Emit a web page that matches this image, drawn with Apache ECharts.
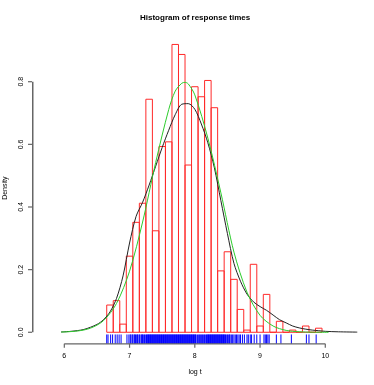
<!DOCTYPE html>
<html>
<head>
<meta charset="utf-8">
<script src="https://cdn.jsdelivr.net/npm/echarts@6/dist/echarts.min.js"></script>
<style>
  html, body { margin: 0; padding: 0; background: #fff; }
  #chart { width: 374px; height: 385px; }
</style>
</head>
<body>
<div id="chart"></div>
<script>
// histogram breaks (log t) and bar densities
const breaks = [6.65, 6.75, 6.85, 6.95, 7.05, 7.15, 7.25, 7.35, 7.45, 7.55, 7.65, 7.75,
  7.85, 7.95, 8.05, 8.15, 8.25, 8.35, 8.45, 8.55, 8.65, 8.75, 8.85, 8.95, 9.05, 9.15,
  9.25, 9.35, 9.45, 9.55, 9.65, 9.75, 9.85, 9.95];
const density = [0.087, 0.101, 0.026, 0.243, 0.351, 0.412, 0.744, 0.324, 0.593, 0.608,
  0.919, 0.887, 0.534, 0.784, 0.752, 0.804, 0.717, 0.196, 0.257, 0.169, 0.073, 0.007,
  0.217, 0.020, 0.121, 0, 0.035, 0, 0.007, 0, 0.020, 0, 0.013];

// kernel density estimate (black)
const kdeX = [5.95, 6.1, 6.3, 6.5, 6.6, 6.7, 6.8, 6.9, 7.0, 7.1, 7.2, 7.3, 7.4, 7.5, 7.6,
  7.7, 7.8, 7.9, 8.0, 8.1, 8.2, 8.3, 8.4, 8.5, 8.6, 8.7, 8.8, 8.9, 9.0, 9.1, 9.2, 9.3,
  9.4, 9.5, 9.6, 9.7, 9.8, 9.9, 10.0, 10.2, 10.49];
const kdeY = [0.001, 0.003, 0.009, 0.025, 0.040, 0.065, 0.108, 0.180, 0.285, 0.370, 0.415,
  0.470, 0.530, 0.590, 0.645, 0.695, 0.728, 0.730, 0.712, 0.665, 0.605, 0.525, 0.420,
  0.315, 0.220, 0.163, 0.122, 0.097, 0.082, 0.070, 0.055, 0.040, 0.030, 0.020, 0.014,
  0.010, 0.007, 0.005, 0.003, 0.0015, 0.0005];

// fitted normal density (green)
const normX = [5.95, 6.2, 6.4, 6.6, 6.8, 7.0, 7.2, 7.4, 7.6, 7.7, 7.8, 7.85, 7.9, 8.0, 8.2,
  8.4, 8.6, 8.8, 9.0, 9.2, 9.4, 9.6, 9.8, 10.05];
const normY = [0.0006, 0.004, 0.013, 0.037, 0.092, 0.195, 0.352, 0.542, 0.711, 0.770, 0.795,
  0.798, 0.793, 0.758, 0.620, 0.445, 0.256, 0.128, 0.054, 0.020, 0.006, 0.0016, 0.0003, 0];

// observed values shown as rug
const rug = [6.65, 6.67, 6.71, 6.74, 6.78, 6.81, 6.84, 6.87, 6.96, 6.99, 7.01, 7.02, 7.04,
  7.05, 7.07, 7.08, 7.09, 7.11, 7.12, 7.13, 7.15, 7.16, 7.18, 7.19, 7.20, 7.21, 7.23, 7.24,
  7.26, 7.27, 7.28, 7.29, 7.30, 7.31, 7.32, 7.33, 7.34, 7.35, 7.36, 7.37, 7.38, 7.39, 7.40,
  7.41, 7.42, 7.43, 7.44, 7.45, 7.46, 7.47, 7.48, 7.49, 7.50, 7.51, 7.52, 7.53, 7.54, 7.55,
  7.56, 7.57, 7.58, 7.59, 7.60, 7.61, 7.62, 7.63, 7.64, 7.65, 7.66, 7.67, 7.68, 7.69, 7.70,
  7.71, 7.72, 7.73, 7.74, 7.75, 7.76, 7.77, 7.78, 7.79, 7.80, 7.81, 7.82, 7.83, 7.84, 7.85,
  7.86, 7.87, 7.88, 7.89, 7.90, 7.91, 7.92, 7.93, 7.94, 7.95, 7.96, 7.97, 7.98, 7.99, 8.00,
  8.01, 8.02, 8.04, 8.06, 8.07, 8.09, 8.10, 8.12, 8.13, 8.15, 8.16, 8.18, 8.19, 8.20, 8.21,
  8.22, 8.23, 8.24, 8.25, 8.26, 8.27, 8.28, 8.29, 8.30, 8.31, 8.32, 8.33, 8.34, 8.35, 8.36,
  8.37, 8.38, 8.39, 8.40, 8.41, 8.42, 8.43, 8.44, 8.45, 8.46, 8.47, 8.49, 8.50, 8.52, 8.53,
  8.54, 8.56, 8.58, 8.60, 8.62, 8.64, 8.66, 8.68, 8.70, 8.73, 8.76, 8.80, 8.82, 8.85, 8.87,
  8.91, 8.95, 9.00, 9.06, 9.08, 9.10, 9.12, 9.14, 9.25, 9.32, 9.48, 9.71, 9.75, 9.86];

const xTicks = [6, 7, 8, 9, 10];
const yTicks = [0, 0.2, 0.4, 0.6, 0.8];

const X_MIN = 5.52, X_MAX = 10.486;
const Y_MIN = -0.0368, Y_MAX = 0.9568;

const FONT = 'Liberation Sans';
const AXIS_COLOR = '#666';
const TICK_LEN = 4;

const bars = density.map((d, i) => [breaks[i], breaks[i + 1], d]);
const zip = (xs, ys) => xs.map((x, i) => [x, ys[i]]);

const chart = echarts.init(document.getElementById('chart'));
chart.setOption({
  animation: false,
  title: {
    text: 'Histogram of response times',
    left: 135,
    top: 9,
    textStyle: { fontFamily: FONT, fontSize: 8, fontWeight: 'bold', color: '#000' }
  },
  grid: { left: 33, right: 17, top: 32.6, bottom: 41.2, containLabel: false, outerBoundsMode: 'none' },
  xAxis: {
    type: 'value',
    min: X_MIN,
    max: X_MAX,
    name: 'log t',
    nameLocation: 'middle',
    nameGap: 24.5,
    nameTextStyle: { fontFamily: FONT, fontSize: 7, color: '#000' },
    axisLine: { show: false },
    splitLine: { show: false },
    axisTick: { show: false },
    axisLabel: { customValues: xTicks, fontFamily: FONT, fontSize: 7, color: '#000', margin: 9 }
  },
  yAxis: {
    type: 'value',
    min: Y_MIN,
    max: Y_MAX,
    name: 'Density',
    nameLocation: 'middle',
    nameGap: 24,
    nameTextStyle: { fontFamily: FONT, fontSize: 7, color: '#000' },
    axisLine: { show: false },
    splitLine: { show: false },
    axisTick: { show: false },
    axisLabel: {
      customValues: yTicks,
      rotate: 90,
      fontFamily: FONT, fontSize: 7, color: '#000', margin: 8,
      formatter: v => v.toFixed(1)
    }
  },
  series: [
    {
      name: 'histogram',
      type: 'custom',
      data: bars,
      encode: { x: [0, 1], y: 2 },
      renderItem: function (params, api) {
        const p0 = api.coord([api.value(0), api.value(2)]);
        const p1 = api.coord([api.value(1), 0]);
        return {
          type: 'rect',
          shape: { x: p0[0], y: p0[1], width: p1[0] - p0[0], height: p1[1] - p0[1] },
          style: { fill: 'none', stroke: '#ff2a2a', lineWidth: 1 }
        };
      },
      z: 1
    },
    {
      name: 'kde',
      type: 'line',
      data: zip(kdeX, kdeY),
      smooth: 0.3,
      showSymbol: false,
      lineStyle: { color: '#222', width: 1 },
      z: 3
    },
    {
      name: 'normal',
      type: 'line',
      data: zip(normX, normY),
      smooth: 0.3,
      showSymbol: false,
      lineStyle: { color: '#2ccc2c', width: 1 },
      z: 4
    },
    {
      name: 'rug',
      type: 'custom',
      data: rug.map(v => [v, 0]),
      encode: { x: 0, y: 1 },
      renderItem: function (params, api) {
        const cs = params.coordSys;
        const x = api.coord([api.value(0), 0])[0];
        const yb = cs.y + cs.height;
        return {
          type: 'line',
          shape: { x1: x, y1: yb, x2: x, y2: yb - cs.height * 0.03 },
          style: { stroke: '#0000ff', lineWidth: 1 }
        };
      },
      z: 2
    }
  ]
});

// R-style axes: lines only span the tick range, ticks point outward
const toPx = p => chart.convertToPixel({ gridIndex: 0 }, p);
const fill = { fill: AXIS_COLOR };
const corner = toPx([X_MIN, Y_MIN]);
const bottom = corner[1];
const left = corner[0];
const axisGraphics = [];
const xa = toPx([xTicks[0], 0])[0], xb = toPx([xTicks[xTicks.length - 1], 0])[0];
const ya = toPx([X_MIN, yTicks[0]])[1], yb = toPx([X_MIN, yTicks[yTicks.length - 1]])[1];
// x axis
axisGraphics.push({ type: 'rect', shape: { x: xa, y: bottom - 0.6, width: xb - xa, height: 1.2 }, style: fill });
xTicks.forEach(t => {
  const x = toPx([t, 0])[0];
  axisGraphics.push({ type: 'rect', shape: { x: x - 0.6, y: bottom, width: 1.2, height: TICK_LEN }, style: fill });
});
// y axis
axisGraphics.push({ type: 'rect', shape: { x: left - 1, y: yb, width: 1.5, height: ya - yb }, style: fill });
yTicks.forEach(t => {
  const y = toPx([X_MIN, t])[1];
  axisGraphics.push({ type: 'rect', shape: { x: left - 1 - TICK_LEN, y: y - 0.6, width: TICK_LEN, height: 1.2 }, style: fill });
});
chart.setOption({
  graphic: axisGraphics.map(g => Object.assign({ silent: true, z: 10, zlevel: 1 }, g))
});
</script>
</body>
</html>
